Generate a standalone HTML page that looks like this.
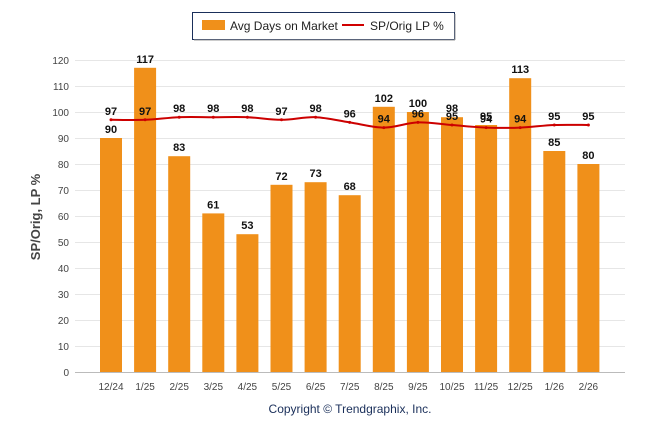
<!DOCTYPE html>
<html><head><meta charset="utf-8"><style>
body{margin:0;background:#fff;font-family:"Liberation Sans",sans-serif}
svg text{font-family:"Liberation Sans",sans-serif}
</style></head><body>
<svg id="c" width="646" height="434">
<rect x="192.5" y="12.5" width="262" height="27" fill="#fff" stroke="#1a2f5a" stroke-width="1"/>
<line x1="455" y1="14" x2="455" y2="40" stroke="#999" stroke-width="1"/>
<line x1="194" y1="40" x2="455" y2="40" stroke="#999" stroke-width="1"/>
<rect x="202" y="20" width="23" height="10" fill="#f0901a"/>
<text x="230" y="30" font-size="12" fill="#222">Avg Days on Market</text>
<line x1="342" y1="25" x2="364" y2="25" stroke="#d00000" stroke-width="2"/>
<text x="370" y="30" font-size="12" fill="#222">SP/Orig LP %</text>
<text transform="translate(40,217) rotate(-90)" text-anchor="middle" font-size="13" font-weight="bold" fill="#444">SP/Orig, LP %</text>
<text x="350" y="413" text-anchor="middle" font-size="12" fill="#1a2f5a">Copyright © Trendgraphix, Inc.</text>
<g id="grid"></g><g id="bars"></g><g id="line"></g><g id="labels"></g>
</svg>
<script>
const categories=["12/24","1/25","2/25","3/25","4/25","5/25","6/25","7/25","8/25","9/25","10/25","11/25","12/25","1/26","2/26"];
const days=[90,117,83,61,53,72,73,68,102,100,98,95,113,85,80];
const sp=[97,97,98,98,98,97,98,96,94,96,95,94,94,95,95];
const yTicks=[0,10,20,30,40,50,60,70,80,90,100,110,120];
const NS="http://www.w3.org/2000/svg";
const y=v=>372-v*2.6;
const x=i=>111+i*34.1;
function mk(t,a,p){const e=document.createElementNS(NS,t);for(const k in a)e.setAttribute(k,a[k]);p.appendChild(e);return e;}
const G=document.getElementById('grid'),B=document.getElementById('bars'),L=document.getElementById('line'),T=document.getElementById('labels');
yTicks.forEach(v=>{
 const l=mk('line',{x1:75,x2:625,y1:y(v)+.5,y2:y(v)+.5,stroke:v===0?'#bbb':'#e6e6e6'},G);
 
 
 const t=mk('text',{x:69,y:y(v)+4,'text-anchor':'end','font-size':10,fill:'#444'},G);t.textContent=v;
 
 
});
categories.forEach((c,i)=>{
 const t=mk('text',{x:x(i),y:390,'text-anchor':'middle','font-size':10,fill:'#444'},G);t.textContent=c;
 
 
 const r=mk('rect',{x:x(i)-11,y:y(days[i]),width:22,height:372-y(days[i]),fill:'#f0901a'},B);
 
 
 const bl=mk('text',{x:x(i),y:y(days[i])-5,'text-anchor':'middle','font-size':11,'font-weight':'bold',fill:'#111'},T);bl.textContent=days[i];
 
 
 const ll=mk('text',{x:x(i),y:y(sp[i])-5,'text-anchor':'middle','font-size':11,'font-weight':'bold',fill:'#111'},T);ll.textContent=sp[i];
 
 
});
let d='M'+x(0)+','+y(sp[0]);
for(let i=0;i<sp.length-1;i++){
 const p0=[x(Math.max(i-1,0)),y(sp[Math.max(i-1,0)])],p1=[x(i),y(sp[i])],p2=[x(i+1),y(sp[i+1])],p3=[x(Math.min(i+2,sp.length-1)),y(sp[Math.min(i+2,sp.length-1)])];
 const c1=[p1[0]+(p2[0]-p0[0])/6,p1[1]+(p2[1]-p0[1])/6],c2=[p2[0]-(p3[0]-p1[0])/6,p2[1]-(p3[1]-p1[1])/6];
 d+=` C${c1} ${c2} ${p2}`;
}
const pth=mk('path',{d:d,fill:'none',stroke:'#cc0000','stroke-width':2},L);


sp.forEach((v,i)=>{const c=mk('circle',{cx:x(i),cy:y(v),r:1.5,fill:'#cc0000'},L);
 
 });
</script>
</body></html>
